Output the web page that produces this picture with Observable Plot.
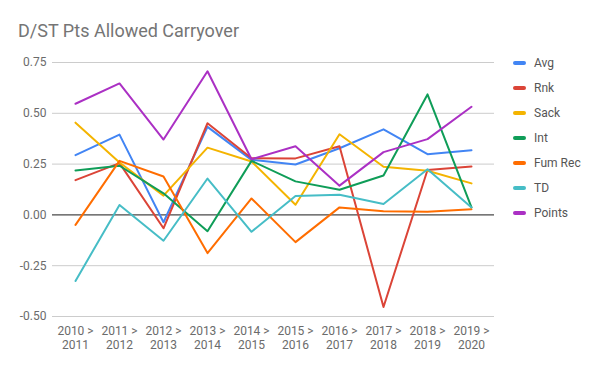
<!DOCTYPE html>
<html>
<head>
<meta charset="utf-8">
<script src="https://cdn.jsdelivr.net/npm/d3@7"></script>
<script src="https://cdn.jsdelivr.net/npm/@observablehq/plot@0.6"></script>
<style>
  body { margin: 0; background: #fff; font-family: Roboto, sans-serif; }
  #wrap { position: relative; width: 600px; height: 371px; }
  #title { position: absolute; left: 18px; top: 20px; font-size: 18px; color: #757575; }
  #legend { position: absolute; left: 513px; top: 55px; font-size: 12px; color: #555; }
  .item { height: 25px; display: flex; align-items: flex-start; line-height: 16px; }
  .sw { width: 13px; height: 4px; border-radius: 2px; margin-top: 6px; margin-right: 8px; }
</style>
</head>
<body>
<div id="wrap">
  <div id="chart"></div>
  <div id="title">D/ST Pts Allowed Carryover</div>
  <div id="legend"></div>
</div>
<script>
const periods = ["2010 >\n2011","2011 >\n2012","2012 >\n2013","2013 >\n2014","2014 >\n2015","2015 >\n2016","2016 >\n2017","2017 >\n2018","2018 >\n2019","2019 >\n2020"];
const seriesNames = ["Avg","Rnk","Sack","Int","Fum Rec","TD","Points"];
const colors = ["#4285F4","#DB4437","#F4B400","#0F9D58","#FF6D00","#46BDC6","#AB30C4"];
const avg    = [0.294, 0.395, -0.036, 0.433, 0.271, 0.248, 0.328, 0.421, 0.299, 0.318];
const rnk    = [0.171, 0.255, -0.066, 0.451, 0.279, 0.278, 0.338, -0.453, 0.221, 0.238];
const sack   = [0.454, 0.258, 0.095, 0.331, 0.263, 0.050, 0.397, 0.237, 0.217, 0.155];
const ints   = [0.219, 0.242, 0.106, -0.080, 0.266, 0.165, 0.124, 0.194, 0.593, 0.037];
const fumRec = [-0.049, 0.266, 0.189, -0.188, 0.081, -0.134, 0.037, 0.018, 0.016, 0.028];
const td     = [-0.325, 0.049, -0.127, 0.179, -0.083, 0.093, 0.099, 0.054, 0.225, 0.037];
const points = [0.547, 0.647, 0.371, 0.707, 0.274, 0.338, 0.144, 0.309, 0.373, 0.532];
const yTicks = [-0.5, -0.25, 0, 0.25, 0.5, 0.75];

const allSeries = [avg, rnk, sack, ints, fumRec, td, points];
const data = [];
allSeries.forEach((vals, s) => vals.forEach((v, i) => data.push({series: seriesNames[s], period: periods[i], value: v})));

const chart = Plot.plot({
  width: 600,
  height: 371,
  marginLeft: 52,
  marginRight: 106,
  marginTop: 62,
  marginBottom: 55,
  style: {fontFamily: "Roboto, sans-serif", fontSize: "12px", color: "#757575", background: "transparent"},
  x: {type: "point", domain: periods, padding: 0.5},
  y: {domain: [-0.5, 0.75]},
  color: {domain: seriesNames, range: colors},
  marks: [
    Plot.gridY(yTicks, {stroke: "#cccccc", strokeOpacity: 1}),
    Plot.ruleY([0], {stroke: "#333"}),
    Plot.axisY(yTicks, {tickSize: 0, tickPadding: 6, tickFormat: d => d.toFixed(2), label: null, fill: "#6b6b6b"}),
    Plot.axisX({tickSize: 0, tickPadding: 8, label: null, lineHeight: 1.2, fill: "#6b6b6b"}),
    Plot.line(data, {x: "period", y: "value", z: "series", stroke: "series", strokeWidth: 2, curve: "linear"})
  ]
});
document.getElementById("chart").appendChild(chart);

const legend = document.getElementById("legend");
seriesNames.forEach((n, i) => {
  const d = document.createElement("div");
  d.className = "item";
  d.innerHTML = `<span class="sw" style="background:${colors[i]}"></span><span>${n}</span>`;
  legend.appendChild(d);
});
</script>
</body>
</html>
